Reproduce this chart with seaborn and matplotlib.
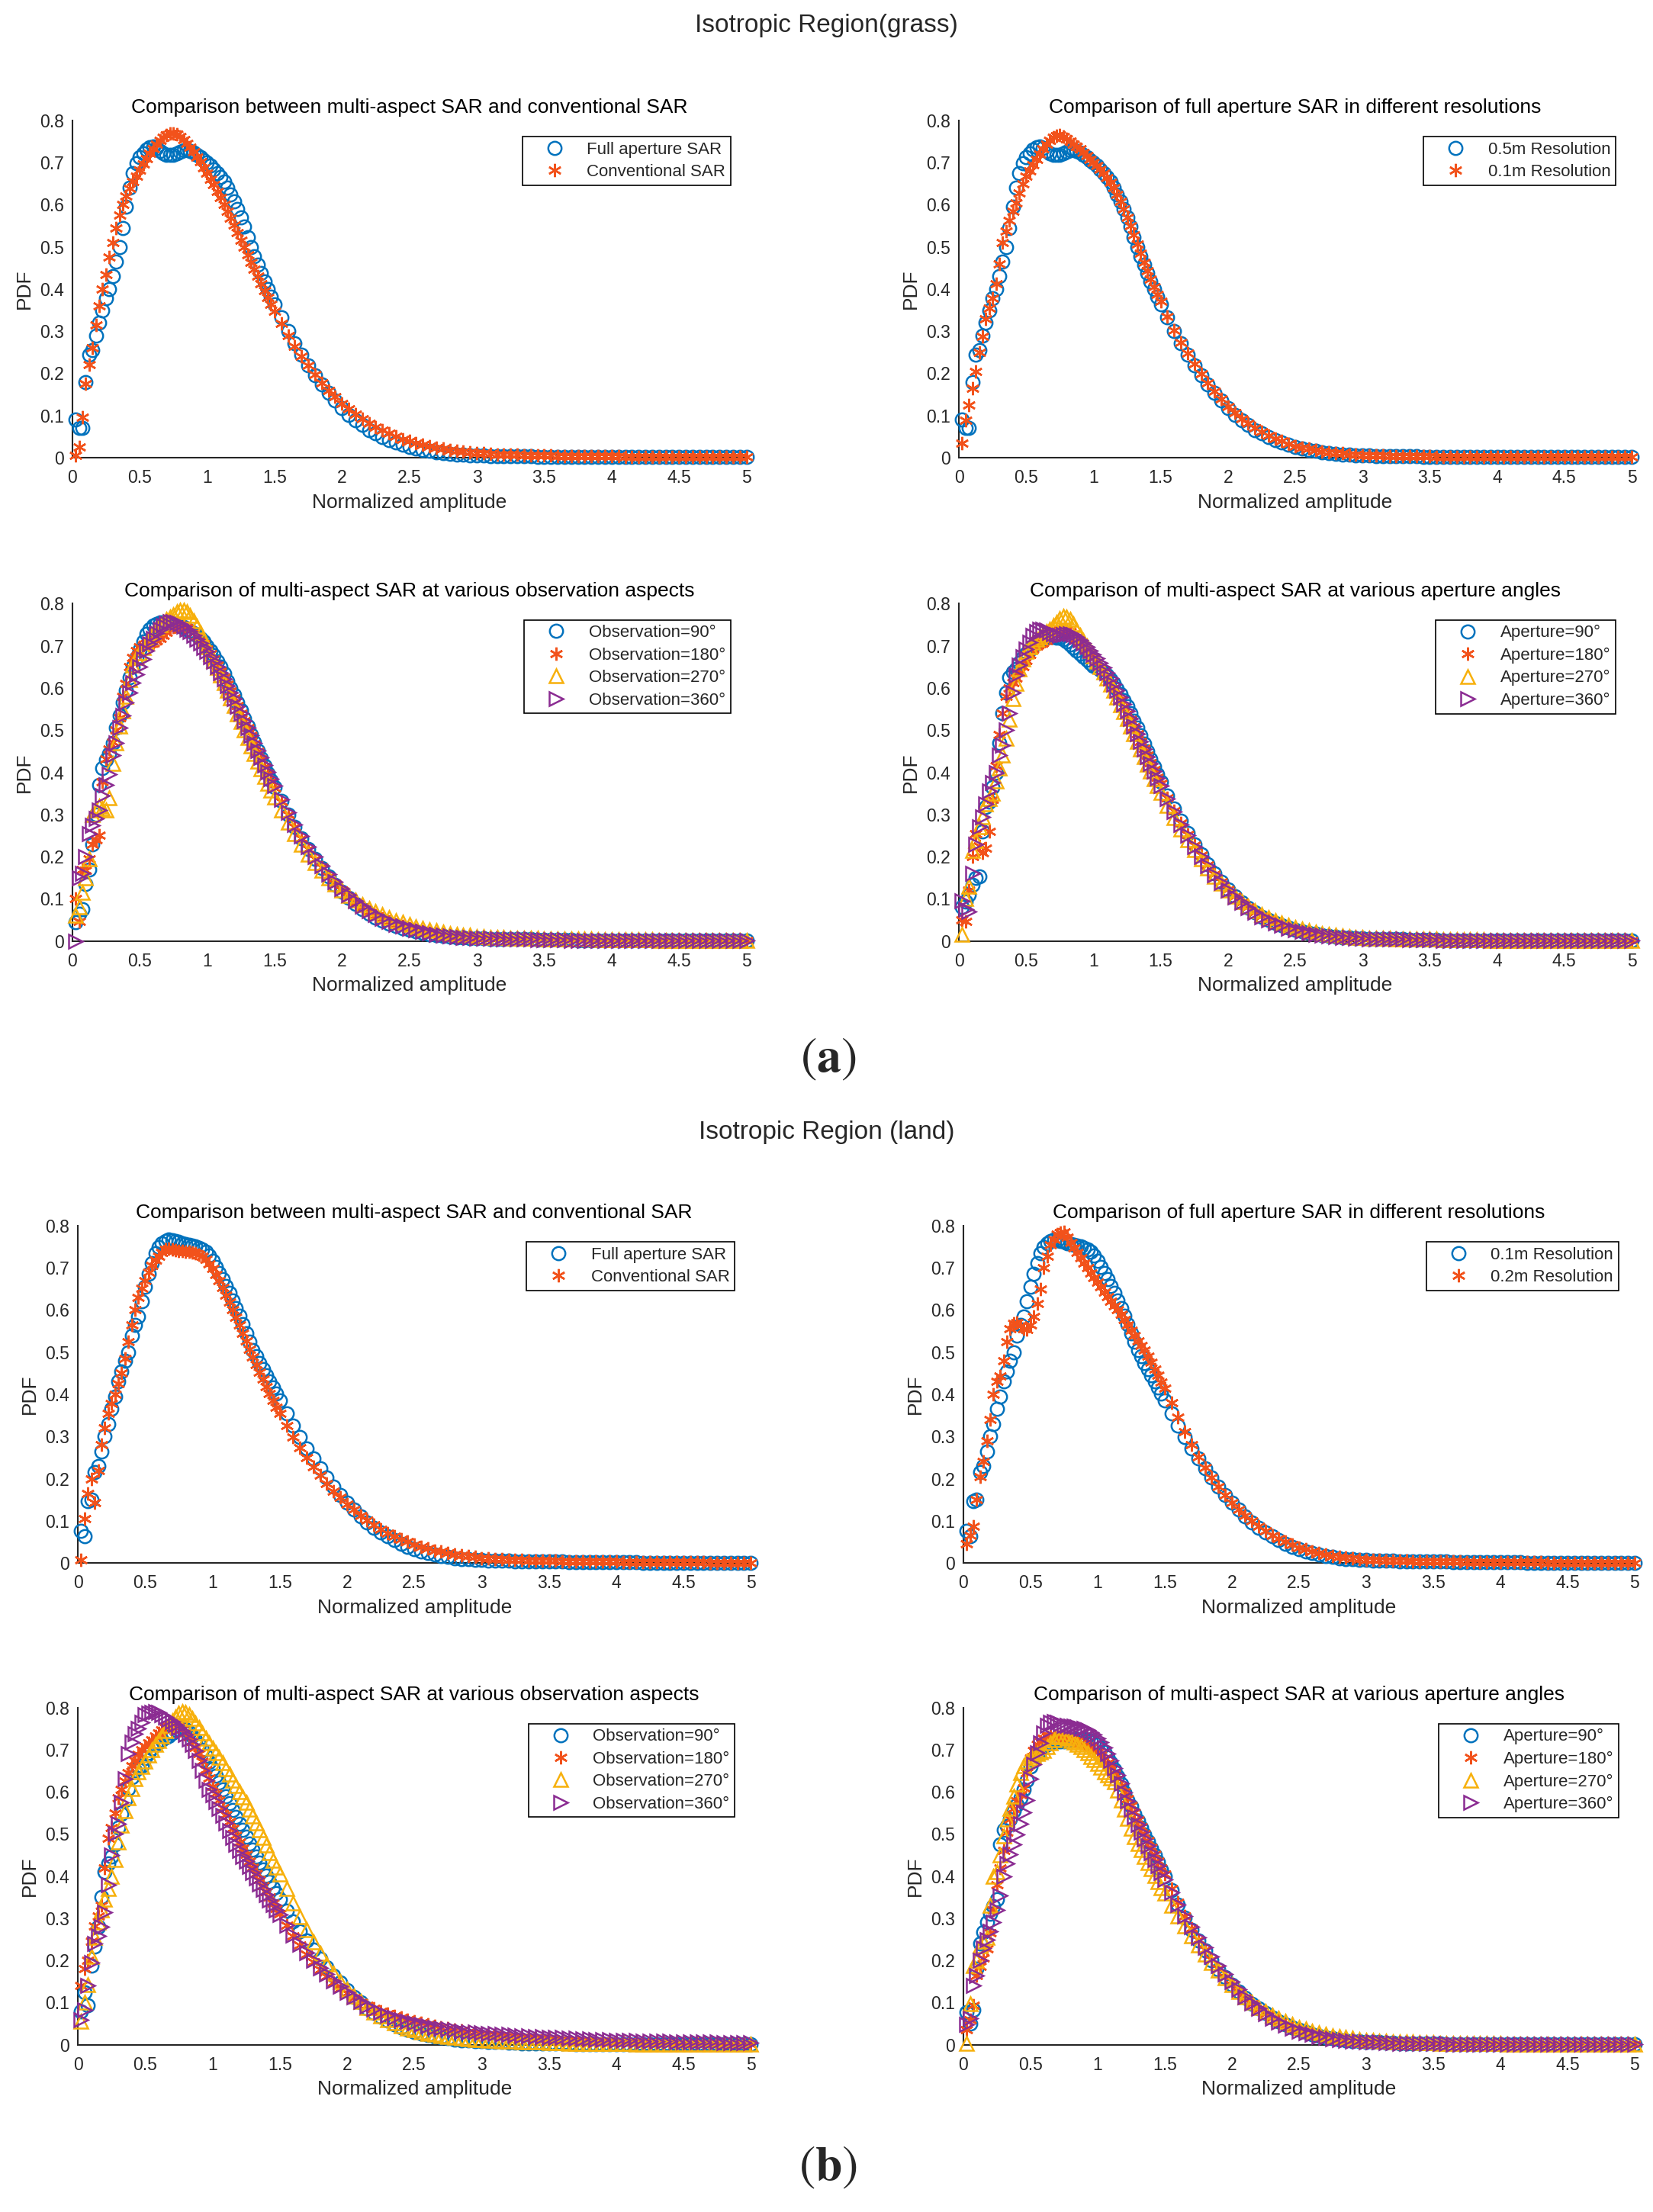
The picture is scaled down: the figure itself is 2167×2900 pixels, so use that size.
import numpy as np
import pandas as pd
import seaborn as sns
import matplotlib
import matplotlib.pyplot as plt
from matplotlib.ticker import FuncFormatter, MultipleLocator
plt.switch_backend('agg')

sns.set_style('white')
plt.rcParams['font.family'] = ['Liberation Sans', 'DejaVu Sans']
plt.rcParams['mathtext.fontset'] = 'stix'

# normalized amplitude grid: 0.025 steps up to 1.5, then 0.05 steps up to 5
amp = np.round(np.concatenate([np.arange(1, 61) * 0.025, 1.5 + np.arange(1, 71) * 0.05]), 3)

# PDF values (x1000), one value per grid point
# --- isotropic region, grass ---
grass_full = [90, 70, 70, 180, 245, 255, 290, 320, 350, 378,
              400, 430, 465, 500, 545, 595, 640, 675, 698, 712,
              722, 730, 736, 738, 735, 728, 722, 719, 718, 718,
              721, 725, 729, 730, 728, 724, 718, 712, 706, 700,
              692, 684, 675, 666, 655, 641, 625, 608, 590, 570,
              548, 522, 500, 478, 458, 438, 418, 400, 382, 364,
              332, 300, 271, 244, 219, 196, 174, 154, 135, 118,
              102, 89, 77, 66, 57, 49, 42, 36, 31, 26,
              22, 19, 16, 13, 11, 9, 8, 7, 6,
              5, 5, 4, 4, 4, 3, 3, 3, 3, 2,
              2, 2, 2, 2, 2, 2, 2, 2, 1, 1,
              1, 1, 1, 1, 1, 1, 1, 1, 1, 1,
              1, 1, 1, 1, 1, 1, 1, 1, 1, 1,
              1]
grass_conv = [5, 25, 95, 175, 220, 260, 315, 360, 400, 435,
              475, 510, 545, 575, 600, 620, 638, 654, 668, 682,
              696, 709, 721, 733, 744, 753, 760, 765, 768, 769,
              767, 762, 755, 746, 736, 725, 713, 701, 688, 675,
              661, 647, 632, 617, 601, 585, 568, 551, 534, 516,
              499, 481, 464, 447, 430, 413, 396, 380, 364, 348,
              318, 290, 264, 240, 218, 198, 178, 160, 144, 129,
              115, 103, 92, 82, 73, 65, 57, 50, 44, 39,
              34, 30, 27, 24, 21, 18, 16, 14, 13,
              11, 10, 9, 8, 8, 7, 7, 6, 6, 5,
              5, 5, 4, 4, 4, 4, 3, 3, 3, 3,
              3, 3, 2, 2, 2, 2, 2, 2, 2, 2,
              2, 2, 1, 1, 1, 1, 1, 1, 1, 1,
              1]
grass_01m = [35, 88, 125, 165, 205, 250, 288, 330, 355, 378,
             412, 460, 510, 538, 562, 585, 605, 627, 650, 668,
             680, 695, 708, 720, 732, 743, 752, 759, 764, 765,
             762, 757, 751, 744, 738, 732, 724, 716, 708, 700,
             692, 684, 674, 664, 653, 640, 624, 607, 589, 570,
             550, 529, 507, 485, 464, 444, 424, 406, 388, 370,
             335, 303, 274, 247, 222, 199, 177, 157, 139, 122,
             107, 93, 81, 70, 61, 52, 45, 39, 33, 28,
             24, 21, 18, 15, 13, 11, 10, 8, 7,
             6, 6, 5, 5, 4, 4, 4, 3, 3, 3,
             3, 2, 2, 2, 2, 2, 2, 2, 2, 2,
             1, 1, 1, 1, 1, 1, 1, 1, 1, 1,
             1, 1, 1, 1, 1, 1, 1, 1, 1, 1,
             1]
grass_obs90 = [45, 65, 75, 135, 170, 230, 300, 370, 410, 430,
               445, 470, 505, 535, 565, 595, 625, 650, 672, 690,
               710, 728, 740, 748, 752, 755, 756, 756, 755, 753,
               750, 747, 744, 740, 736, 731, 725, 718, 710, 700,
               689, 677, 664, 650, 634, 617, 600, 583, 565, 547,
               528, 509, 490, 471, 452, 434, 416, 398, 381, 364,
               332, 300, 271, 244, 219, 195, 173, 153, 134, 117,
               102, 88, 76, 65, 56, 48, 41, 35, 30, 26,
               22, 19, 16, 14, 12, 10, 9, 8, 7,
               6, 6, 5, 5, 5, 4, 4, 4, 4, 3,
               3, 3, 3, 3, 3, 2, 2, 2, 2, 2,
               2, 2, 2, 2, 2, 2, 2, 1, 1, 1,
               1, 1, 1, 1, 1, 1, 1, 1, 1, 1,
               1]
grass_obs180 = [100, 47, 170, 168, 195, 230, 240, 250, 377, 432,
                455, 472, 500, 530, 580, 610, 650, 672, 688, 698,
                702, 704, 705, 707, 712, 718, 725, 732, 739, 744,
                748, 749, 747, 743, 738, 731, 723, 714, 704, 693,
                681, 668, 654, 640, 625, 609, 593, 576, 559, 541,
                523, 505, 487, 468, 450, 432, 414, 397, 380, 363,
                330, 299, 270, 243, 218, 195, 174, 154, 136, 120,
                105, 92, 80, 70, 61, 53, 46, 40, 35, 30,
                26, 22, 19, 17, 14, 12, 11, 9, 8,
                7, 7, 6, 6, 5, 5, 5, 4, 4, 4,
                4, 3, 3, 3, 3, 3, 3, 2, 2, 2,
                2, 2, 2, 2, 2, 2, 2, 2, 1, 1,
                1, 1, 1, 1, 1, 1, 1, 1, 1, 1,
                1]
grass_obs270 = [60, 80, 116, 150, 195, 300, 310, 320, 315, 310,
                340, 420, 470, 510, 545, 580, 620, 655, 672, 684,
                696, 708, 720, 732, 742, 750, 756, 762, 768, 774,
                780, 785, 785, 780, 772, 760, 746, 730, 714, 698,
                682, 665, 648, 631, 613, 595, 577, 558, 539, 520,
                501, 482, 463, 444, 426, 408, 391, 374, 357, 341,
                310, 281, 254, 229, 206, 186, 167, 150, 135, 121,
                108, 97, 87, 78, 70, 62, 55, 49, 44, 39,
                34, 30, 27, 24, 21, 18, 16, 14, 13,
                11, 10, 9, 9, 8, 7, 7, 6, 6, 6,
                5, 5, 5, 4, 4, 4, 4, 4, 3, 3,
                3, 3, 3, 3, 3, 3, 3, 2, 2, 2,
                2, 2, 2, 2, 2, 2, 2, 2, 2, 2,
                2]
grass_obs360 = [0, 150, 160, 200, 255, 275, 290, 310, 345, 370,
                395, 440, 470, 505, 535, 565, 590, 612, 632, 650,
                668, 688, 705, 718, 730, 740, 748, 754, 757, 757,
                755, 751, 746, 740, 733, 725, 716, 706, 696, 686,
                675, 663, 650, 636, 621, 606, 590, 574, 557, 540,
                523, 506, 488, 470, 452, 435, 418, 401, 384, 368,
                336, 305, 276, 249, 224, 201, 179, 159, 141, 124,
                109, 95, 83, 72, 62, 54, 47, 40, 35, 30,
                26, 22, 19, 16, 14, 12, 10, 9, 8,
                7, 6, 6, 5, 5, 5, 4, 4, 4, 3,
                3, 3, 3, 3, 2, 2, 2, 2, 2, 2,
                2, 2, 2, 2, 2, 2, 1, 1, 1, 1,
                1, 1, 1, 1, 1, 1, 1, 1, 1, 1,
                1]
grass_ap90 = [80, 94, 110, 134, 150, 153, 260, 318, 330, 365,
              400, 470, 540, 590, 625, 638, 645, 660, 672, 682,
              690, 700, 708, 714, 718, 720, 721, 721, 720, 719,
              716, 710, 703, 695, 688, 681, 674, 667, 660, 653,
              648, 644, 637, 630, 620, 610, 598, 585, 571, 556,
              540, 523, 505, 487, 468, 450, 432, 414, 396, 378,
              345, 314, 285, 257, 230, 205, 182, 160, 140, 122,
              106, 92, 79, 68, 58, 50, 43, 37, 32, 27,
              23, 20, 17, 14, 12, 10, 9, 8, 7,
              6, 5, 5, 5, 4, 4, 4, 3, 3, 3,
              3, 3, 2, 2, 2, 2, 2, 2, 2, 2,
              2, 2, 2, 1, 1, 1, 1, 1, 1, 1,
              1, 1, 1, 1, 1, 1, 1, 1, 1, 1,
              1]
grass_ap180 = [50, 47, 120, 200, 255, 225, 210, 220, 260, 335,
               415, 490, 540, 580, 600, 612, 624, 636, 650, 665,
               680, 692, 700, 705, 709, 713, 720, 728, 735, 739,
               740, 738, 733, 726, 718, 710, 701, 692, 682, 672,
               661, 650, 638, 626, 613, 600, 586, 572, 557, 541,
               525, 508, 491, 474, 457, 440, 423, 406, 389, 373,
               340, 309, 280, 253, 227, 203, 180, 159, 140, 122,
               106, 92, 80, 69, 59, 51, 44, 38, 32, 28,
               24, 20, 17, 15, 13, 11, 9, 8, 7,
               6, 6, 5, 5, 4, 4, 4, 3, 3, 3,
               3, 3, 3, 2, 2, 2, 2, 2, 2, 2,
               2, 2, 2, 2, 1, 1, 1, 1, 1, 1,
               1, 1, 1, 1, 1, 1, 1, 1, 1, 1,
               1]
grass_ap270 = [15, 100, 130, 215, 238, 270, 295, 325, 338, 350,
               380, 410, 440, 480, 525, 575, 610, 645, 668, 687,
               698, 708, 715, 721, 727, 733, 740, 748, 756, 764,
               770, 768, 763, 752, 738, 724, 712, 700, 688, 676,
               664, 651, 638, 624, 609, 594, 578, 561, 544, 527,
               509, 491, 473, 455, 437, 419, 402, 385, 368, 352,
               322, 293, 266, 240, 216, 194, 173, 154, 136, 120,
               106, 93, 82, 72, 63, 55, 48, 42, 37, 32,
               28, 24, 21, 18, 16, 14, 12, 10, 9,
               8, 7, 7, 6, 6, 5, 5, 5, 4, 4,
               4, 4, 3, 3, 3, 3, 3, 3, 3, 2,
               2, 2, 2, 2, 2, 2, 2, 2, 2, 2,
               2, 2, 2, 2, 2, 2, 1, 1, 1, 1,
               1]
grass_ap360 = [95, 75, 70, 160, 230, 270, 295, 325, 355, 375,
               400, 440, 465, 500, 540, 590, 630, 655, 675, 692,
               708, 725, 734, 739, 740, 737, 732, 728, 726, 725,
               727, 729, 729, 726, 721, 714, 706, 698, 689, 680,
               670, 660, 648, 636, 623, 609, 594, 578, 562, 545,
               528, 510, 492, 474, 456, 438, 420, 403, 386, 369,
               337, 306, 277, 250, 224, 200, 178, 157, 138, 121,
               105, 91, 79, 68, 58, 50, 43, 37, 31, 27,
               23, 19, 16, 14, 12, 10, 9, 8, 7,
               6, 5, 5, 5, 4, 4, 4, 3, 3, 3,
               3, 3, 2, 2, 2, 2, 2, 2, 2, 2,
               2, 2, 2, 1, 1, 1, 1, 1, 1, 1,
               1, 1, 1, 1, 1, 1, 1, 1, 1, 1,
               1]

# --- isotropic region, land ---
land_full = [77, 63, 146, 150, 215, 230, 265, 300, 330, 365,
             395, 430, 455, 480, 500, 540, 565, 585, 620, 655,
             685, 712, 735, 750, 758, 763, 767, 766, 764, 762,
             759, 756, 754, 753, 751, 748, 744, 738, 729, 716,
             702, 688, 673, 657, 641, 623, 605, 586, 566, 545,
             525, 505, 490, 475, 460, 445, 431, 416, 401, 386,
             355, 326, 298, 272, 248, 224, 202, 181, 161, 143,
             126, 111, 97, 84, 73, 63, 54, 46, 39, 33,
             28, 24, 20, 17, 14, 12, 10, 9, 8,
             7, 6, 6, 5, 5, 4, 4, 4, 3, 3,
             3, 3, 3, 2, 2, 2, 2, 2, 2, 2,
             2, 2, 2, 2, 1, 1, 1, 1, 1, 1,
             1, 1, 1, 1, 1, 1, 1, 1, 1, 1,
             1]
land_conv = [7, 105, 164, 200, 143, 220, 280, 320, 355, 378,
             400, 425, 450, 485, 525, 565, 600, 630, 652, 670,
             690, 706, 718, 728, 737, 743, 745, 744, 742, 741,
             740, 739, 738, 736, 734, 731, 727, 720, 710, 698,
             684, 669, 653, 636, 619, 601, 583, 564, 545, 526,
             507, 489, 471, 453, 436, 419, 402, 386, 370, 354,
             325, 298, 273, 250, 228, 208, 189, 171, 155, 140,
             126, 113, 101, 90, 80, 71, 63, 56, 50, 44,
             39, 34, 30, 27, 24, 21, 18, 16, 14,
             12, 11, 10, 9, 8, 7, 7, 6, 6, 5,
             5, 5, 4, 4, 4, 3, 3, 3, 3, 3,
             3, 2, 2, 2, 2, 2, 2, 2, 2, 2,
             2, 2, 2, 2, 1, 1, 1, 1, 1, 1,
             1]
land_02m = [45, 66, 87, 150, 205, 240, 290, 340, 400, 430,
            443, 480, 525, 555, 568, 570, 563, 555, 553, 565,
            585, 615, 650, 700, 728, 755, 768, 780, 784, 785,
            772, 760, 748, 736, 724, 712, 700, 688, 677, 666,
            655, 643, 632, 621, 610, 600, 590, 578, 565, 552,
            539, 527, 516, 505, 491, 476, 460, 445, 429, 414,
            380, 346, 312, 281, 252, 226, 202, 181, 161, 143,
            127, 112, 99, 87, 76, 66, 58, 50, 43, 37,
            32, 28, 24, 20, 17, 15, 13, 11, 10,
            8, 7, 7, 6, 5, 5, 5, 4, 4, 4,
            3, 3, 3, 3, 3, 2, 2, 2, 2, 2,
            2, 2, 2, 2, 2, 2, 2, 1, 1, 1,
            1, 1, 1, 1, 1, 1, 1, 1, 1, 1,
            1]
land_obs90 = [80, 125, 94, 188, 233, 280, 350, 410, 430, 446,
              475, 515, 548, 580, 608, 635, 650, 656, 662, 680,
              693, 704, 712, 718, 723, 728, 733, 740, 746, 749,
              750, 748, 742, 733, 723, 712, 700, 685, 670, 654,
              638, 622, 606, 590, 573, 557, 541, 525, 509, 493,
              477, 462, 446, 431, 416, 401, 387, 373, 359, 345,
              318, 293, 270, 247, 225, 204, 184, 165, 147, 130,
              114, 100, 87, 76, 66, 57, 49, 42, 36, 31,
              27, 23, 20, 17, 15, 13, 11, 10, 9,
              8, 7, 6, 6, 5, 5, 4, 4, 4, 3,
              3, 3, 3, 3, 2, 2, 2, 2, 2, 2,
              2, 2, 2, 2, 1, 1, 1, 1, 1, 1,
              1, 1, 1, 1, 1, 1, 1, 1, 1, 1,
              1]
land_obs180 = [140, 180, 200, 245, 282, 305, 330, 420, 490, 515,
               550, 585, 605, 625, 645, 662, 675, 688, 700, 708,
               716, 724, 732, 740, 746, 752, 756, 757, 757, 754,
               748, 740, 731, 720, 705, 690, 672, 652, 632, 613,
               596, 580, 563, 546, 530, 513, 497, 481, 466, 451,
               436, 421, 406, 392, 378, 364, 350, 336, 323, 310,
               284, 259, 236, 215, 196, 178, 162, 147, 134, 122,
               111, 101, 93, 86, 80, 74, 69, 64, 60, 56,
               52, 48, 45, 42, 39, 36, 34, 31, 29,
               27, 25, 23, 22, 20, 19, 18, 17, 16, 15,
               14, 13, 12, 11, 11, 10, 9, 9, 8, 8,
               7, 7, 6, 6, 6, 5, 5, 5, 4, 4,
               4, 4, 3, 3, 3, 3, 3, 2, 2, 2,
               2]
land_obs270 = [55, 100, 143, 210, 255, 290, 320, 345, 370, 400,
               440, 480, 520, 555, 585, 608, 630, 648, 660, 673,
               687, 700, 712, 722, 733, 745, 757, 768, 778, 786,
               790, 788, 782, 774, 763, 752, 740, 727, 715, 703,
               692, 681, 668, 655, 641, 628, 615, 601, 587, 574,
               558, 542, 526, 509, 492, 474, 456, 438, 421, 404,
               370, 336, 303, 272, 243, 216, 192, 170, 150, 132,
               116, 102, 89, 78, 68, 59, 52, 45, 40, 35,
               31, 27, 24, 21, 19, 17, 15, 14, 13,
               12, 11, 10, 9, 8, 8, 7, 7, 6, 6,
               5, 5, 5, 4, 4, 4, 4, 3, 3, 3,
               3, 3, 3, 2, 2, 2, 2, 2, 2, 2,
               2, 2, 2, 2, 1, 1, 1, 1, 1, 1,
               1]
land_obs360 = [60, 83, 140, 195, 240, 258, 280, 315, 380, 450,
               500, 525, 575, 630, 690, 718, 738, 750, 765, 782,
               786, 789, 790, 788, 782, 778, 772, 767, 760, 752,
               744, 735, 725, 713, 698, 675, 651, 628, 606, 592,
               577, 561, 544, 526, 508, 491, 475, 460, 447, 436,
               422, 408, 395, 382, 369, 356, 344, 332, 320, 308,
               283, 260, 239, 219, 200, 183, 167, 152, 138, 125,
               113, 102, 92, 84, 77, 71, 65, 60, 56, 52,
               48, 45, 42, 40, 37, 35, 33, 31, 30,
               28, 27, 26, 25, 24, 23, 22, 21, 20, 19,
               18, 17, 17, 16, 15, 14, 14, 13, 12, 12,
               11, 11, 10, 10, 9, 9, 8, 8, 8, 7,
               7, 7, 6, 6, 6, 6, 5, 5, 5, 5,
               5]
land_ap90 = [77, 50, 83, 180, 240, 268, 290, 310, 328, 345,
             475, 510, 518, 535, 555, 570, 586, 605, 628, 660,
             675, 688, 698, 706, 712, 716, 719, 720, 720, 720,
             721, 723, 724, 725, 725, 725, 723, 721, 717, 712,
             703, 694, 682, 668, 652, 636, 619, 598, 581, 565,
             548, 532, 515, 498, 483, 467, 450, 433, 416, 400,
             366, 333, 302, 273, 247, 223, 200, 179, 160, 143,
             127, 112, 98, 86, 75, 65, 56, 48, 41, 35,
             30, 25, 21, 18, 15, 13, 11, 9, 8,
             7, 6, 6, 5, 5, 4, 4, 4, 3, 3,
             3, 3, 2, 2, 2, 2, 2, 2, 2, 2,
             2, 2, 2, 1, 1, 1, 1, 1, 1, 1,
             1, 1, 1, 1, 1, 1, 1, 1, 1, 1,
             1]
land_ap180 = [36, 60, 94, 165, 185, 205, 228, 265, 320, 380,
              420, 460, 505, 535, 560, 578, 592, 610, 645, 680,
              698, 712, 720, 727, 730, 732, 733, 733, 731, 729,
              727, 725, 722, 719, 716, 713, 709, 705, 700, 694,
              687, 679, 669, 657, 644, 630, 615, 600, 584, 568,
              551, 534, 517, 500, 484, 468, 452, 436, 420, 404,
              370, 337, 306, 277, 250, 225, 202, 180, 160, 142,
              126, 111, 97, 85, 74, 64, 55, 47, 40, 34,
              29, 25, 21, 18, 15, 13, 11, 10, 8,
              7, 6, 6, 5, 5, 4, 4, 4, 3, 3,
              3, 3, 3, 2, 2, 2, 2, 2, 2, 2,
              2, 2, 2, 1, 1, 1, 1, 1, 1, 1,
              1, 1, 1, 1, 1, 1, 1, 1, 1, 1,
              1]
land_ap270 = [3, 97, 188, 200, 235, 245, 255, 330, 400, 410,
              450, 495, 535, 560, 590, 618, 645, 662, 672, 680,
              686, 690, 694, 698, 707, 716, 724, 730, 733, 731,
              727, 721, 717, 712, 706, 700, 692, 684, 676, 667,
              658, 648, 640, 632, 624, 603, 580, 558, 536, 513,
              494, 478, 462, 447, 432, 417, 402, 387, 373, 359,
              331, 306, 282, 259, 237, 215, 195, 176, 158, 142,
              127, 113, 100, 89, 79, 70, 62, 55, 48, 42,
              37, 33, 29, 25, 22, 19, 17, 15, 13,
              11, 10, 9, 8, 7, 7, 6, 6, 5, 5,
              5, 4, 4, 4, 4, 3, 3, 3, 3, 3,
              3, 2, 2, 2, 2, 2, 2, 2, 2, 2,
              2, 2, 2, 2, 2, 1, 1, 1, 1, 1,
              1]
land_ap360 = [49, 63, 140, 165, 200, 230, 250, 270, 290, 320,
              355, 400, 430, 452, 475, 498, 525, 552, 580, 630,
              665, 693, 716, 740, 757, 765, 766, 765, 761, 758,
              757, 756, 755, 753, 751, 750, 746, 741, 735, 727,
              718, 705, 690, 674, 657, 640, 620, 598, 578, 558,
              540, 522, 505, 488, 472, 456, 440, 424, 408, 392,
              362, 333, 306, 280, 255, 231, 209, 188, 168, 149,
              131, 114, 99, 86, 74, 63, 54, 46, 39, 33,
              28, 24, 20, 17, 14, 12, 10, 9, 8,
              7, 6, 6, 5, 5, 4, 4, 4, 3, 3,
              3, 3, 3, 2, 2, 2, 2, 2, 2, 2,
              2, 2, 2, 2, 1, 1, 1, 1, 1, 1,
              1, 1, 1, 1, 1, 1, 1, 1, 1, 1,
              1]

INK = '#262626'
COLORS = ['#0072BD', '#F2521B', '#F7B00C', '#8B2C92']
MARKERS = ['o', (6, 2, 0), '^', '>']

T_CONV = 'Comparison between multi-aspect SAR and conventional SAR'
T_RES = 'Comparison of full aperture SAR in different resolutions'
T_OBS = 'Comparison of multi-aspect SAR at various observation aspects'
T_AP = 'Comparison of multi-aspect SAR at various aperture angles'

obs = ['Observation=90°', 'Observation=180°', 'Observation=270°', 'Observation=360°']
ap = ['Aperture=90°', 'Aperture=180°', 'Aperture=270°', 'Aperture=360°']

# (left, bottom, width, height) in figure fraction
panels = [
    ((0.0437, 0.7931, 0.4079, 0.1525), T_CONV,
     [('Full aperture SAR', grass_full), ('Conventional SAR', grass_conv)]),
    ((0.5801, 0.7931, 0.4070, 0.1525), T_RES,
     [('0.5m Resolution', grass_full), ('0.1m Resolution', grass_01m)]),
    ((0.0437, 0.5746, 0.4079, 0.1525), T_OBS,
     list(zip(obs, [grass_obs90, grass_obs180, grass_obs270, grass_obs360]))),
    ((0.5801, 0.5746, 0.4070, 0.1525), T_AP,
     list(zip(ap, [grass_ap90, grass_ap180, grass_ap270, grass_ap360]))),
    ((0.0471, 0.2934, 0.4071, 0.1525), T_CONV,
     [('Full aperture SAR', land_full), ('Conventional SAR', land_conv)]),
    ((0.5827, 0.2934, 0.4062, 0.1525), T_RES,
     [('0.1m Resolution', land_full), ('0.2m Resolution', land_02m)]),
    ((0.0471, 0.0756, 0.4071, 0.1525), T_OBS,
     list(zip(obs, [land_obs90, land_obs180, land_obs270, land_obs360]))),
    ((0.5827, 0.0756, 0.4062, 0.1525), T_AP,
     list(zip(ap, [land_ap90, land_ap180, land_ap270, land_ap360]))),
]

fmt = FuncFormatter(lambda v, p: '%g' % round(v, 3))


def draw_panel(fig, rect, title, series):
    ax = fig.add_axes(rect)
    for i, (label, vals) in enumerate(series):
        if len(vals) != len(amp):
            raise ValueError('%s: %d values' % (label, len(vals)))
        df = pd.DataFrame({'amp': amp, 'pdf': np.asarray(vals) / 1000.0})
        sns.lineplot(data=df, x='amp', y='pdf', ax=ax, label=label, errorbar=None,
                     color=COLORS[i], marker=MARKERS[i], linestyle='none',
                     markersize=12.5, markerfacecolor='none',
                     markeredgecolor=COLORS[i], markeredgewidth=1.8,
                     clip_on=False, zorder=3 + i)
    ax.set_xlim(0, 5)
    ax.set_ylim(0, 0.8)
    ax.xaxis.set_major_locator(MultipleLocator(0.5))
    ax.yaxis.set_major_locator(MultipleLocator(0.1))
    ax.xaxis.set_major_formatter(fmt)
    ax.yaxis.set_major_formatter(fmt)
    for s in ['top', 'right']:
        ax.spines[s].set_visible(False)
    for s in ['left', 'bottom']:
        ax.spines[s].set_color(INK)
        ax.spines[s].set_linewidth(1.5)
    ax.tick_params(direction='in', length=7, width=1.3, colors=INK,
                   labelsize=16.5)
    ax.tick_params(axis='x', pad=11)
    ax.tick_params(axis='y', pad=8)
    ax.set_xlabel('Normalized amplitude', fontsize=19, color=INK, labelpad=6)
    ax.set_ylabel('PDF', fontsize=19, color=INK, labelpad=6)
    ax.set_title(title, fontsize=19, color='black', pad=7)
    leg = ax.legend(loc='upper right', frameon=True, fancybox=False,
                    edgecolor='black', framealpha=1, fontsize=16,
                    handlelength=3.2, handletextpad=0.3, borderpad=0.3,
                    labelspacing=0.38, borderaxespad=0.95)
    leg.get_frame().set_linewidth(1.2)
    return ax


fig = plt.figure(figsize=(21.67, 29), dpi=100)
for rect, title, series in panels:
    draw_panel(fig, rect, title, series)

fig.text(0.5, 0.9885, 'Isotropic Region(grass)', ha='center', va='center', fontsize=24)
fig.text(0.5, 0.488, 'Isotropic Region (land)', ha='center', va='center', fontsize=24)
fig.text(0.501, 0.521, r'$(\mathbf{a})$', ha='center', va='center', fontsize=46)
fig.text(0.501, 0.0199, r'$(\mathbf{b})$', ha='center', va='center', fontsize=46)

fig.savefig('out.png', dpi=100, facecolor='white')
